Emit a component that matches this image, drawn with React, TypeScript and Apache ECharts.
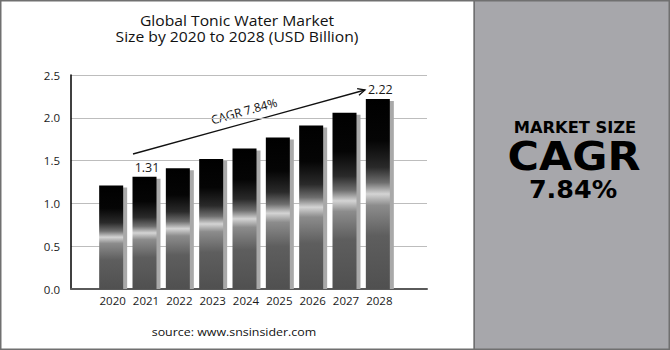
import React, { useEffect, useRef } from "react";
import * as echarts from "echarts";

const years = ["2020", "2021", "2022", "2023", "2024", "2025", "2026", "2027", "2028"];
const marketSize = [1.21, 1.31, 1.41, 1.52, 1.64, 1.77, 1.91, 2.06, 2.22];
const labeledYears = ["2021", "2028"];
const yTicks = { min: 0, max: 2.5, interval: 0.5 };
const titleLines = ["Global Tonic Water Market", "Size by 2020 to 2028 (USD Billion)"];
const cagrText = "CAGR 7.84%";
const sourceText = "source: www.snsinsider.com";
const panelLines = ["MARKET SIZE", "CAGR", "7.84%"];

const FONT = "'Open Sans', sans-serif";
const WIDE = "'DejaVu Sans', sans-serif";

export default function App() {
  const ref = useRef<HTMLDivElement>(null);
  useEffect(() => {
    if (!ref.current) return;
    const chart = echarts.init(ref.current, null, { renderer: "svg" });

    // arrow geometry (annotation)
    const ax0 = 133, ay0 = 154, ax1 = 365, ay1 = 90;
    const ang = Math.atan2(ay0 - ay1, ax1 - ax0);
    const back = Math.PI + Math.atan2(ay1 - ay0, ax1 - ax0);
    const hl = 8, spread = 0.45;
    const h1 = [ax1 + hl * Math.cos(back + spread), ay1 + hl * Math.sin(back + spread)];
    const h2 = [ax1 + hl * Math.cos(back - spread), ay1 + hl * Math.sin(back - spread)];

    const option: any = {
      animation: false,
      backgroundColor: "#ffffff",
      grid: [
        { left: 71, right: 243, top: 75, bottom: 61 },
        { left: 96, right: 274, top: 75, bottom: 61 },
      ],
      xAxis: [
        {
          gridIndex: 0,
          type: "value",
          min: 0,
          max: 1,
          axisLine: { show: true, lineStyle: { color: "#5a5a5a", width: 2 } },
          axisTick: { show: false },
          axisLabel: { show: false },
          splitLine: { show: false },
        },
        {
          gridIndex: 1,
          type: "category",
          data: years,
          axisLine: { show: false },
          axisTick: { show: false },
          axisLabel: { interval: 0, color: "#1a1a1a", fontSize: 11.5, fontFamily: FONT, margin: 5 },
        },
      ],
      yAxis: [
        {
          gridIndex: 0,
          type: "value",
          min: yTicks.min,
          max: yTicks.max,
          interval: yTicks.interval,
          axisLine: { show: true, lineStyle: { color: "#000", width: 1.5 } },
          axisTick: { show: false },
          axisLabel: {
            color: "#1a1a1a",
            fontSize: 11.5,
            fontFamily: FONT,
            margin: 11,
            formatter: (v: number) => v.toFixed(1),
          },
          splitLine: { show: true, lineStyle: { color: "#bdbdbd", width: 1 } },
        },
        {
          gridIndex: 1,
          type: "value",
          min: yTicks.min,
          max: yTicks.max,
          interval: yTicks.interval,
          show: false,
        },
      ],
      series: [
        {
          type: "custom",
          xAxisIndex: 1,
          yAxisIndex: 1,
          data: years.map((y, i) => [i, marketSize[i]]),
          renderItem: (params: any, api: any) => {
            const idx = api.value(0);
            const v = api.value(1);
            const top = api.coord([idx, v]);
            const base = api.coord([idx, 0]);
            const cx = top[0];
            const h = base[1] - top[1];
            const children: any[] = [
              {
                type: "rect",
                shape: { x: cx - 9.5, y: top[1] + 2, width: 24, height: h - 2 },
                style: { fill: "#a9a9a9" },
              },
              {
                type: "rect",
                shape: { x: cx - 13.5, y: top[1], width: 24, height: h },
                style: {
                  fill: {
                    type: "linear",
                    x: 0,
                    y: 0,
                    x2: 0,
                    y2: 1,
                    colorStops: [
                      { offset: 0, color: "#000000" },
                      { offset: 0.22, color: "#050505" },
                      { offset: 0.36, color: "#2a2a2a" },
                      { offset: 0.44, color: "#6e6e6e" },
                      { offset: 0.5, color: "#d4d4d4" },
                      { offset: 0.56, color: "#8c8c8c" },
                      { offset: 0.72, color: "#5e5e5e" },
                      { offset: 1, color: "#505050" },
                    ],
                  },
                },
              },
            ];
            if (labeledYears.indexOf(years[idx]) >= 0) {
              children.push({
                type: "text",
                style: {
                  text: String(v.toFixed(2)),
                  x: cx + 1,
                  y: top[1] - 3,
                  align: "center",
                  verticalAlign: "bottom",
                  fill: "#1a1a1a",
                  font: `12.5px ${FONT}`,
                },
              });
            }
            return { type: "group", children };
          },
        },
      ],
      graphic: [
        {
          type: "rect",
          shape: { x: 474, y: 0, width: 196, height: 350 },
          style: { fill: "#a7a7ab", stroke: "#3a3a3a", lineWidth: 1 },
          z: -1,
        },
        {
          type: "rect",
          shape: { x: 0.75, y: 0.75, width: 668.5, height: 348.5 },
          style: { fill: "none", stroke: "#707070", lineWidth: 1.5 },
          z: 10,
        },
        {
          type: "text",
          x: 237,
          y: 28,
          scaleX: 1.12,
          style: {
            text: titleLines.join("\n"),
            align: "center",
            verticalAlign: "middle",
            fill: "#111",
            font: `14px ${FONT}`,
            lineHeight: 16,
          },
        },
        {
          type: "text",
          x: 234,
          y: 332,
          scaleX: 1.08,
          style: {
            text: sourceText,
            align: "center",
            verticalAlign: "middle",
            fill: "#111",
            font: `11.5px ${FONT}`,
          },
        },
        {
          type: "line",
          shape: { x1: ax0, y1: ay0, x2: ax1, y2: ay1 },
          style: { stroke: "#111", lineWidth: 1.3 },
        },
        {
          type: "polyline",
          shape: { points: [h1, [ax1, ay1], h2] },
          style: { stroke: "#111", lineWidth: 1.3, fill: "none" },
        },
        {
          type: "text",
          x: 244,
          y: 111,
          rotation: ang,
          style: {
            text: cagrText,
            align: "center",
            verticalAlign: "middle",
            fill: "#111",
            font: `12px ${FONT}`,
          },
        },
        {
          type: "text",
          x: 575,
          y: 128,
          scaleX: 1.05,
          style: {
            text: panelLines[0],
            align: "center",
            verticalAlign: "middle",
            fill: "#000",
            font: `bold 15.5px ${WIDE}`,
          },
        },
        {
          type: "text",
          x: 574,
          y: 157,
          scaleX: 1.1,
          style: {
            text: panelLines[1],
            align: "center",
            verticalAlign: "middle",
            fill: "#000",
            font: `bold 39px ${WIDE}`,
          },
        },
        {
          type: "text",
          x: 573,
          y: 190,
          scaleX: 1.06,
          style: {
            text: panelLines[2],
            align: "center",
            verticalAlign: "middle",
            fill: "#000",
            font: `bold 24px ${WIDE}`,
          },
        },
      ],
    };
    chart.setOption(option);
    return () => chart.dispose();
  }, []);
  return (
    <div
      ref={ref}
      style={{ position: "fixed", left: 0, top: 0, width: 670, height: 350 }}
    />
  );
}
